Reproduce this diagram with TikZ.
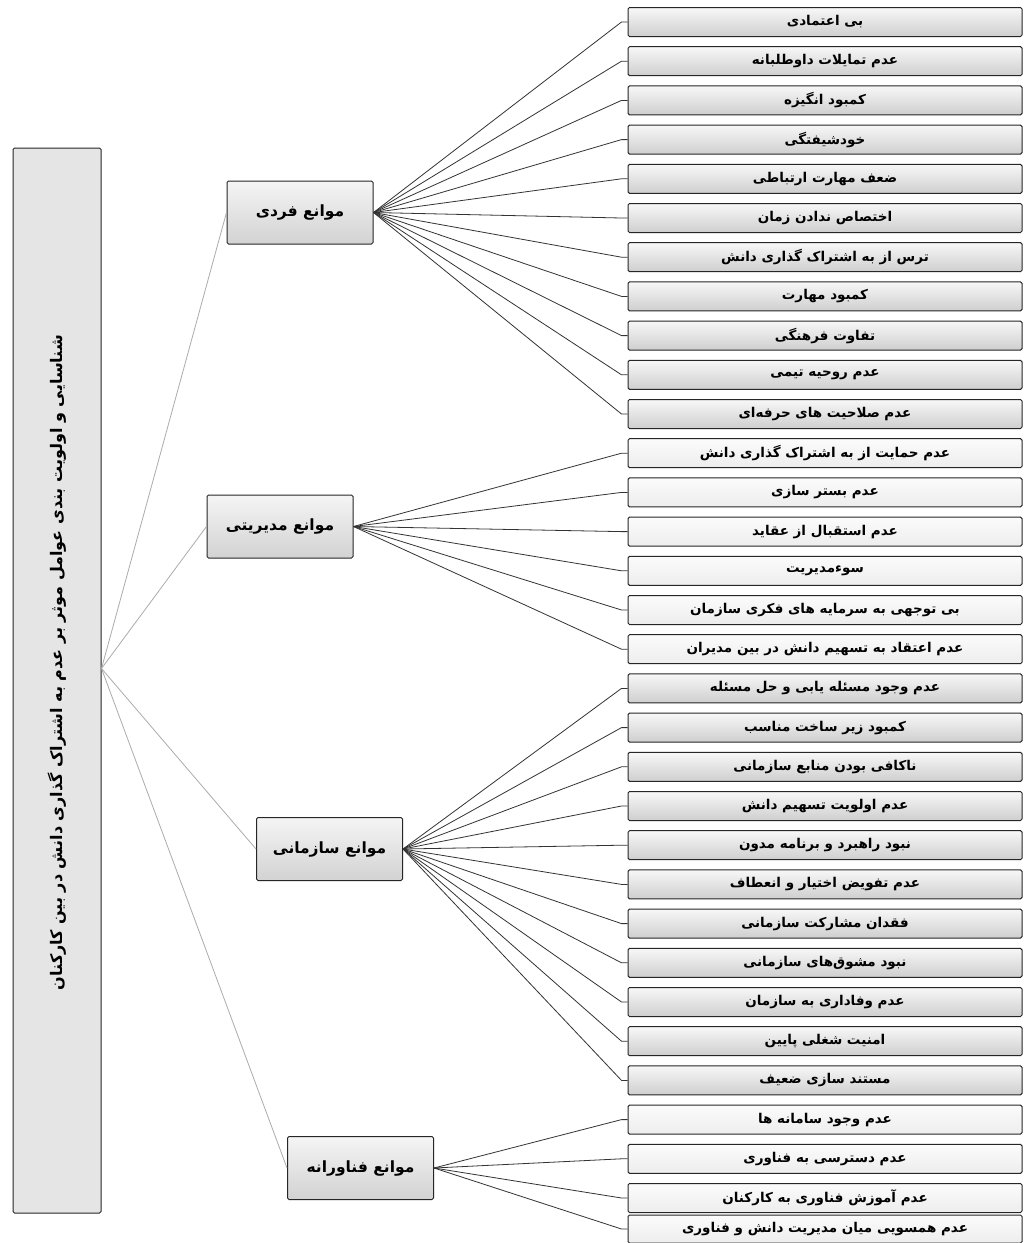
\documentclass[tikz,border=0pt]{standalone}
\usepackage{fontspec}
\newfontfamily\fa[Script=Arabic]{DejaVu Sans}
\TeXXeTstate=1
\begin{document}
\begin{tikzpicture}[x=1pt,y=-1pt,
  box/.style={draw=black!85, line width=1pt, rounded corners=1.5pt, inner sep=0pt},
  leafdark/.style={box, top color=gray!6, bottom color=gray!38, minimum width=394pt, minimum height=29pt, font=\fa\bfseries\fontsize{13.5}{15}\selectfont},
  leaflight/.style={box, top color=gray!3, bottom color=gray!14, minimum width=394pt, minimum height=29pt, font=\fa\bfseries\fontsize{13.5}{15}\selectfont},
  catbox/.style={box, top color=gray!8, bottom color=gray!35, minimum width=146pt, minimum height=63pt, font=\fa\bfseries\fontsize{15.5}{17}\selectfont},
  rootbox/.style={box, fill=gray!20, minimum width=88pt, minimum height=1065pt},
  conn/.style={draw=black!80, line width=0.8pt},
  rconn/.style={draw=gray!65, line width=0.8pt}]
\useasboundingbox (0,0) rectangle (1025,1243);
\fill[white] (0,0) rectangle (1025,1243);

% root
\node[rootbox] (root) at (57,680.5) {};
\node[rotate=90, font=\fa\bfseries\fontsize{16}{18}\selectfont] (roottext) at ([yshift=18pt]root.center) {\beginR شناسایی و اولویت بندی عوامل موثر بر عدم به اشتراک گذاری دانش در بین کارکنان\endR};

% categories
\node[catbox] (c1) at (300,212.5) {\beginR موانع فردی\endR};
\node[catbox] (c2) at (280,526.5) {\beginR موانع مدیریتی\endR};
\node[catbox] (c3) at (329.5,849) {\beginR موانع سازمانی\endR};
\node[catbox] (c4) at (360.5,1168) {\beginR موانع فناورانه\endR};

% leaves: individual
\node[leafdark] (l1) at (825,22) {\beginR بی اعتمادی\endR};
\node[leafdark] (l2) at (825,61.2) {\beginR عدم تمایلات داوطلبانه\endR};
\node[leafdark] (l3) at (825,100.4) {\beginR کمبود انگیزه\endR};
\node[leafdark] (l4) at (825,139.6) {\beginR خودشیفتگی\endR};
\node[leafdark] (l5) at (825,178.8) {\beginR ضعف مهارت ارتباطی\endR};
\node[leafdark] (l6) at (825,218) {\beginR اختصاص ندادن زمان\endR};
\node[leafdark] (l7) at (825,257.2) {\beginR ترس از به اشتراک گذاری دانش\endR};
\node[leafdark] (l8) at (825,296.4) {\beginR کمبود مهارت\endR};
\node[leafdark] (l9) at (825,335.6) {\beginR تفاوت فرهنگی\endR};
\node[leafdark] (l10) at (825,374.8) {\beginR عدم روحیه تیمی\endR};
\node[leafdark] (l11) at (825,414) {\beginR عدم صلاحیت های حرفه‌ای\endR};
% management
\node[leaflight] (l12) at (825,453.2) {\beginR عدم حمایت از به اشتراک گذاری دانش\endR};
\node[leaflight] (l13) at (825,492.4) {\beginR عدم بستر سازی\endR};
\node[leaflight] (l14) at (825,531.6) {\beginR عدم استقبال از عقاید\endR};
\node[leaflight] (l15) at (825,570.8) {\beginR سوءمدیریت\endR};
\node[leaflight] (l16) at (825,610) {\beginR بی توجهی به سرمایه های فکری سازمان\endR};
\node[leaflight] (l17) at (825,649.2) {\beginR عدم اعتقاد به تسهیم دانش در بین مدیران\endR};
% organizational
\node[leafdark] (l18) at (825,688.4) {\beginR عدم وجود مسئله یابی و حل مسئله\endR};
\node[leafdark] (l19) at (825,727.6) {\beginR کمبود زیر ساخت مناسب\endR};
\node[leafdark] (l20) at (825,766.8) {\beginR ناکافی بودن منابع سازمانی\endR};
\node[leafdark] (l21) at (825,806) {\beginR عدم اولویت تسهیم دانش\endR};
\node[leafdark] (l22) at (825,845.2) {\beginR نبود راهبرد و برنامه مدون\endR};
\node[leafdark] (l23) at (825,884.4) {\beginR عدم تفویض اختیار و انعطاف\endR};
\node[leafdark] (l24) at (825,923.6) {\beginR فقدان مشارکت سازمانی\endR};
\node[leafdark] (l25) at (825,962.8) {\beginR نبود مشوق‌های سازمانی\endR};
\node[leafdark] (l26) at (825,1002) {\beginR عدم وفاداری به سازمان\endR};
\node[leafdark] (l27) at (825,1041.2) {\beginR امنیت شغلی پایین\endR};
\node[leafdark] (l28) at (825,1080.4) {\beginR مستند سازی ضعیف\endR};
% technology
\node[leaflight] (l29) at (825,1119.6) {\beginR عدم وجود سامانه ها\endR};
\node[leaflight] (l30) at (825,1158.8) {\beginR عدم دسترسی به فناوری\endR};
\node[leaflight] (l31) at (825,1198) {\beginR عدم آموزش فناوری به کارکنان\endR};
\node[leaflight, minimum height=28pt] (l32) at (825,1229) {\beginR عدم همسویی میان مدیریت دانش و فناوری\endR};

% connectors
\foreach \c in {c1,c2,c3,c4} \draw[rconn] ([yshift=12pt]root.east) -- (\c.west);
\foreach \i in {1,...,11} \draw[conn] (c1.east) -- ([xshift=-6pt]l\i.west) -- (l\i.west);
\foreach \i in {12,...,17} \draw[conn] (c2.east) -- ([xshift=-6pt]l\i.west) -- (l\i.west);
\foreach \i in {18,...,28} \draw[conn] (c3.east) -- ([xshift=-6pt]l\i.west) -- (l\i.west);
\foreach \i in {29,...,32} \draw[conn] (c4.east) -- ([xshift=-6pt]l\i.west) -- (l\i.west);
\end{tikzpicture}
\end{document}
